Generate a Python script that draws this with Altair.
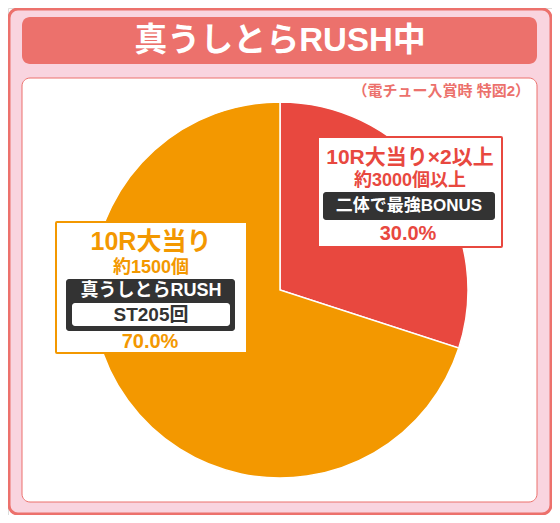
import altair as alt
import pandas as pd

# ---- data ----
categories = ["10R大当り×2以上", "10R大当り"]
values = [30.0, 70.0]
slice_colors = ["#e8483f", "#f39800"]
title_text = "真うしとらRUSH中"
subtitle_text = "（電チュー入賞時 特図2）"
red_lines = ["10R大当り×2以上", "約3000個以上", "二体で最強BONUS", "30.0%"]
orange_lines = ["10R大当り", "約1500個", "真うしとらRUSH", "ST205回", "70.0%"]

FONT = "Liberation Sans, Noto Sans CJK JP"
OFF = 8  # page margin offset
SALMON = "#ec716c"
PINK = "#f9d4df"
DARK = "#333333"

one = pd.DataFrame({"a": [0]})


def rect(x1, y1, x2, y2, fill, stroke=None, sw=0, r=0):
    kw = dict(cornerRadius=r, fill=fill)
    if stroke:
        kw.update(stroke=stroke, strokeWidth=sw)
    return alt.Chart(one).mark_rect(**kw).encode(
        x=alt.value(x1 - OFF), x2=alt.value(x2 - OFF),
        y=alt.value(y1 - OFF), y2=alt.value(y2 - OFF))


def txt(s, x, y, size, color, align="center"):
    return alt.Chart(pd.DataFrame({"t": [s]})).mark_text(
        font=FONT, fontWeight="bold", fontSize=size, color=color,
        align=align, baseline="middle").encode(
        text="t:N", x=alt.value(x - OFF), y=alt.value(y - OFF))


pie_df = pd.DataFrame({"cat": categories, "value": values, "ord": [0, 1]})
pie = alt.Chart(pie_df).mark_arc(outerRadius=188, stroke="white", strokeWidth=1.5).encode(
    theta=alt.Theta("value:Q", stack=True),
    color=alt.Color("cat:N", scale=alt.Scale(domain=categories, range=slice_colors), legend=None),
    order=alt.Order("ord:Q"),
    x=alt.value(280 - OFF), y=alt.value(290 - OFF),
)

layers = [
    rect(9, 9, 551, 514, PINK, SALMON, 3, 9),
    rect(22, 17, 537, 64, SALMON, None, 0, 8),
    txt(title_text, 280, 41, 33, "white"),
    rect(22, 78, 537, 502, "white", SALMON, 1, 8),
    txt(subtitle_text, 530, 91, 15, SALMON, align="right"),
    pie,
    # right label box
    rect(318, 137, 502, 247, "white", "#e8483f", 2, 1),
    txt(red_lines[0], 410, 158, 21, "#e8483f"),
    txt(red_lines[1], 410, 181, 18, "#e8483f"),
    rect(323, 192, 495, 220, DARK, None, 0, 3),
    txt(red_lines[2], 409, 206, 17, "white"),
    txt(red_lines[3], 408, 234, 20, "#e8483f"),
    # left label box
    rect(56, 222, 247, 353, "white", "#f39800", 2, 1),
    txt(orange_lines[0], 151, 242, 25, "#f39800"),
    txt(orange_lines[1], 151, 268, 18, "#f39800"),
    rect(66, 279, 235, 331, DARK, None, 0, 3),
    txt(orange_lines[2], 151, 291, 18, "white"),
    rect(72, 303, 230, 326, "white", None, 0, 3),
    txt(orange_lines[3], 151, 315, 19, DARK),
    txt(orange_lines[4], 150, 342, 20, "#f39800"),
]

chart = alt.layer(*layers).properties(
    width=544, height=507, padding=0, autosize="none"
).configure_view(strokeWidth=0).configure(background="white")

chart.save("out.html", embed_options={"renderer": "svg", "actions": False})
